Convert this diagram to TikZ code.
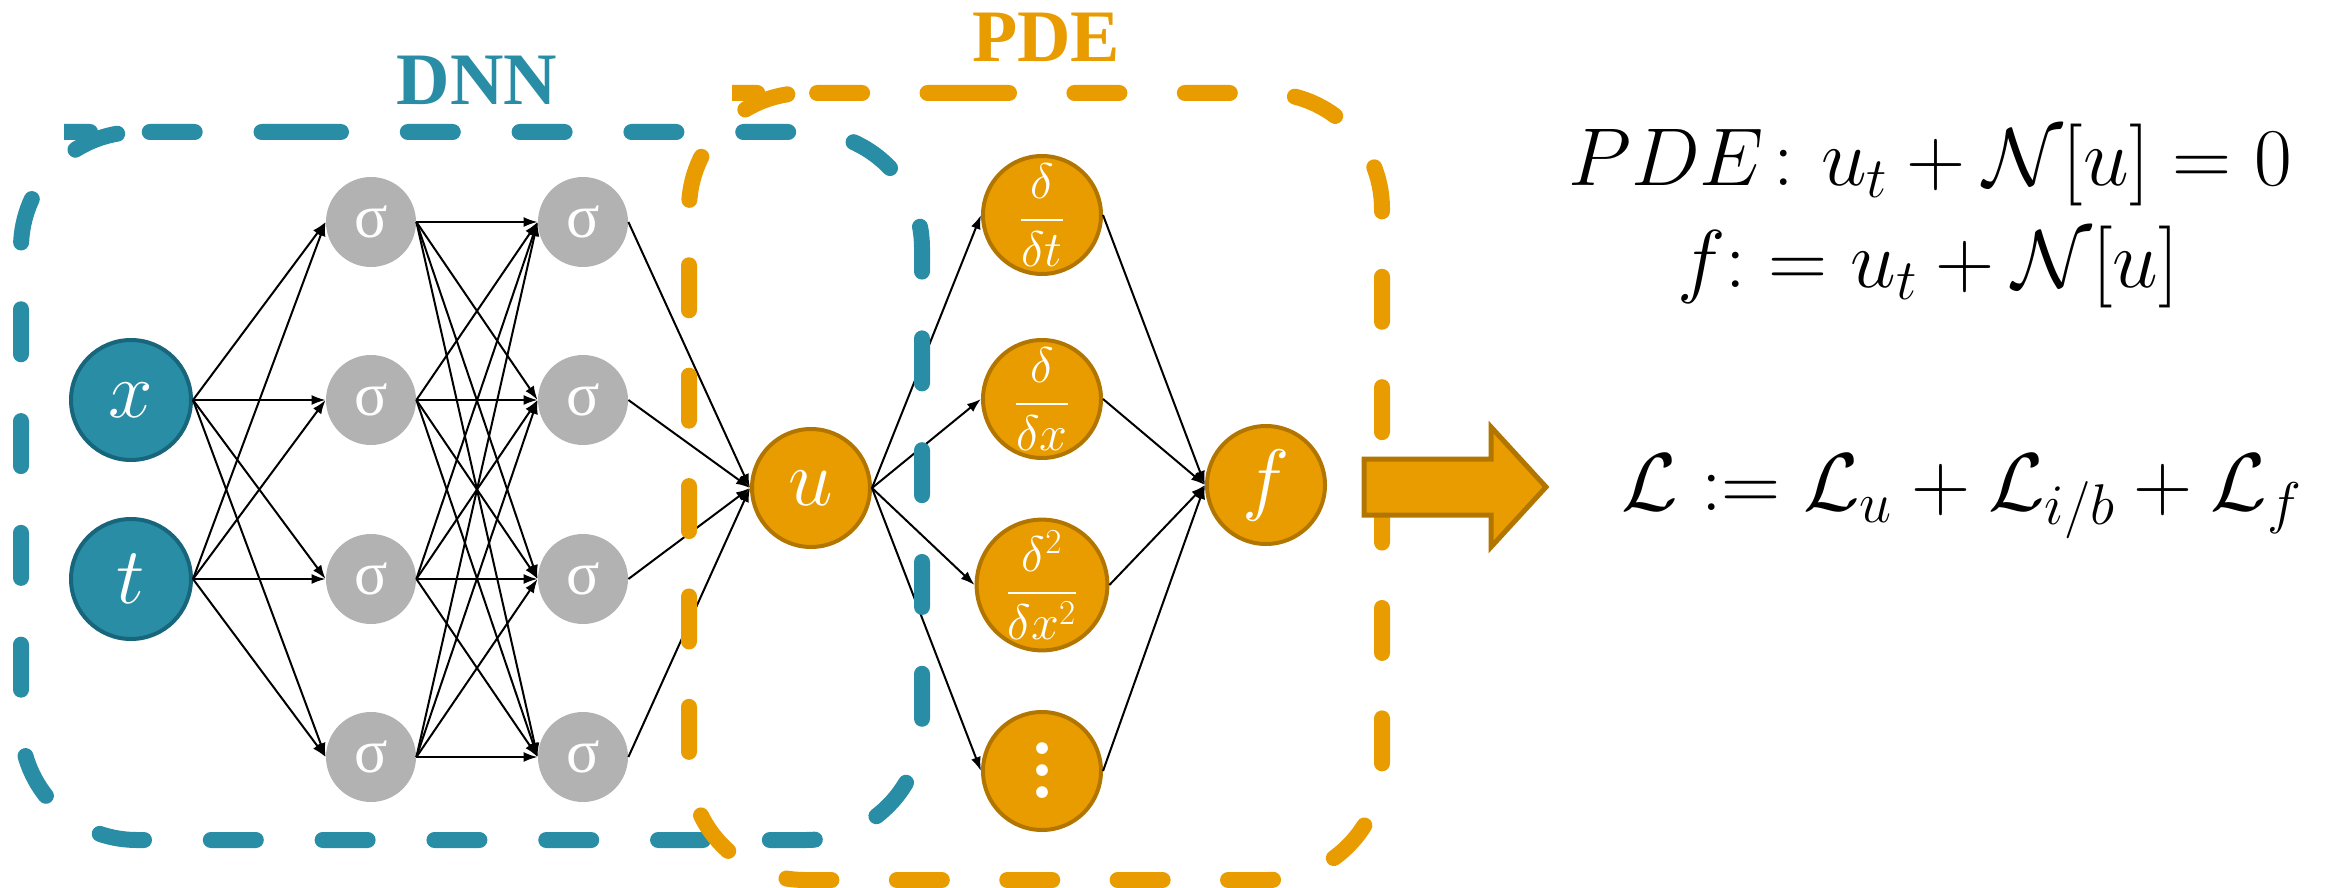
\RequirePackage{fix-cm}
\documentclass[tikz,border=0pt]{standalone}
\usepackage{amsmath}
\usepackage{fontspec}
\newfontfamily\headfont{Liberation Serif}
\usetikzlibrary{arrows.meta}

\definecolor{nnteal}{RGB}{42,141,166}
\definecolor{nntealdark}{RGB}{24,102,124}
\definecolor{pdeorange}{RGB}{232,156,0}
\definecolor{pdeorangedark}{RGB}{178,118,0}
\definecolor{hiddengray}{RGB}{178,178,178}

% three stacked round dots for the "further derivatives" node
\newcommand{\tallvdots}{\vbox{\baselineskip=11pt\lineskiplimit=-40pt\hbox{.}\hbox{.}\hbox{.}}}

\begin{document}
\begin{tikzpicture}[x=0.5pt,y=-0.5pt,
  inpnode/.style={circle, draw=nntealdark, line width=2pt, fill=nnteal,
    minimum size=60pt, inner sep=0pt, text=white,
    font=\fontsize{40pt}{42pt}\selectfont},
  hidnode/.style={circle, fill=hiddengray, minimum size=45pt, inner sep=0pt,
    text=white, font=\headfont\fontsize{31pt}{33pt}\selectfont},
  pdenode/.style={circle, draw=pdeorangedark, line width=2pt, fill=pdeorange,
    minimum size=59pt, inner sep=0pt, text=white,
    font=\fontsize{40pt}{42pt}\selectfont},
  dernode/.style={pdenode, font=\fontsize{25pt}{27pt}\selectfont},
  dotnode/.style={pdenode, font=\fontsize{72pt}{72pt}\selectfont},
  link/.style={-{Latex[length=7pt,width=5pt]}, line width=1pt, black},
  boxline/.style={line width=8pt, line cap=round, rounded corners=58pt},
  grouplabel/.style={font=\headfont\bfseries\fontsize{37pt}{40pt}\selectfont},
  eqn/.style={anchor=base, inner sep=0pt, font=\fontsize{41pt}{48pt}\selectfont}
]
\useasboundingbox (0,0) rectangle (2341,888);

% inputs
\node[inpnode] (x) at (131,400) {$x$};
\node[inpnode] (t) at (131,579) {$t$};

% hidden layers
\foreach \n/\yy in {1/222,2/400,3/579,4/757} {
  \node[hidnode] (a\n) at (371,\yy) {σ};
  \node[hidnode] (b\n) at (583,\yy) {σ};
}

% network output and derivatives
\node[pdenode] (u) at (811,488) {$u$};
\node[dernode] (d1) at (1042,215) {$\displaystyle\frac{\delta}{\delta t}$};
\node[dernode] (d2) at (1042,399) {$\displaystyle\frac{\delta}{\delta x}$};
\node[dernode] (d3) at (1042,585) {$\displaystyle\frac{\delta^2}{\delta x^2}$};
\node[dotnode] (d4) at (1042,771) {\tallvdots};
\node[pdenode] (f) at (1266,485) {$f$};

% connections
\foreach \i in {x,t}
  \foreach \j in {a1,a2,a3,a4}
    \draw[link] (\i.east) -- (\j.west);
\foreach \i in {a1,a2,a3,a4}
  \foreach \j in {b1,b2,b3,b4}
    \draw[link] (\i.east) -- (\j.west);
\foreach \i in {b1,b2,b3,b4}
  \draw[link] (\i.east) -- (u.west);
\foreach \j in {d1,d2,d3,d4} {
  \draw[link] (u.east) -- (\j.west);
  \draw[link] (\j.east) -- (f.west);
}

% group frames (dash period fitted to each outline)
\draw[boxline, nnteal, dash pattern=on 22.5pt off 33.4pt]
  (180,132) -- (922,132) -- (922,840) -- (21,840) -- (21,132) -- cycle;
\draw[boxline, pdeorange, dash pattern=on 22.5pt off 32.7pt]
  (848,93) -- (1382,93) -- (1382,880) -- (689,880) -- (689,93) -- cycle;

\node[grouplabel, text=nnteal] (dnnlabel) at (477,80) {DNN};
\node[grouplabel, text=pdeorange] (pdelabel) at (1046,37) {PDE};

% block arrow towards the loss
\draw[draw=pdeorangedark, fill=pdeorange, line width=2.5pt, line join=miter]
  (1364,459) -- (1491,459) -- (1491,427) -- (1546,487) -- (1491,547)
  -- (1491,515) -- (1364,515) -- cycle;

% equations
\node[eqn] (pdeeq) at (1930,185) {$PDE\colon u_t+\mathcal{N}[u]=0$};
\node[eqn] (fdef) at (1928,287) {$f{:}= u_t+\mathcal{N}[u]$};
\node[eqn] (loss) at (1962,510) {$\mathcal{L}\mathrel{:=}\mathcal{L}_u+\mathcal{L}_{i/b}+\mathcal{L}_f$};
\end{tikzpicture}
\end{document}
